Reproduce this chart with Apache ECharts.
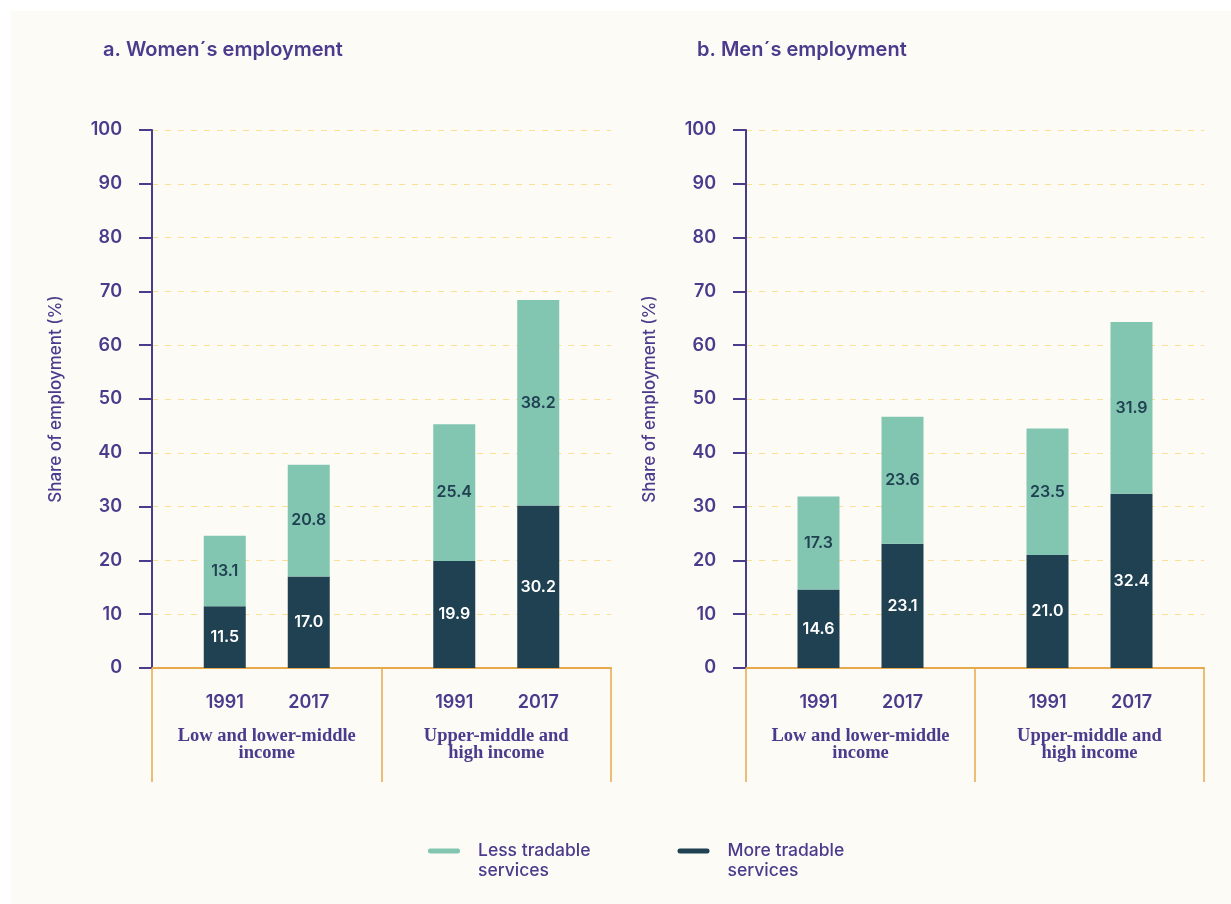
<!DOCTYPE html>
<html>
<head>
<meta charset="utf-8">
<script src="https://cdn.jsdelivr.net/npm/echarts@6/dist/echarts.min.js"></script>
<style>
html,body{margin:0;padding:0;background:#ffffff;}
#chart{width:1231px;height:904px;}
</style>
</head>
<body>
<div id="chart"></div>
<script>
// ---- data ----
const groups = ['Low and lower-middle\nincome', 'Upper-middle and\nhigh income'];
const years = ['1991', '2017'];
const yTicks = { min: 0, max: 100, interval: 10 };
const seriesNames = ['Less tradable services', 'More tradable services'];
const panelTitles = ['a. Women\u00b4s employment', 'b. Men\u00b4s employment'];
const yAxisName = 'Share of employment (%)';

// women: [low group, upper group]
const womenMore1991 = [11.5, 19.9];
const womenLess1991 = [13.1, 25.4];
const womenMore2017 = [17.0, 30.2];
const womenLess2017 = [20.8, 38.2];
// men
const menMore1991 = [14.6, 21.0];
const menLess1991 = [17.3, 23.5];
const menMore2017 = [23.1, 32.4];
const menLess2017 = [23.6, 31.9];

// ---- styles ----
const PURPLE = '#4b3b8c';
const ORANGE = '#e6a94c';
const LESS = '#82c5b0';
const MORE = '#1f4152';
const SANS = 'Inter, Roboto, sans-serif';
const SERIF = '"Liberation Serif", "DejaVu Serif", serif';
const LEGEND_ICON = 'path://M2.5,0 L29.5,0 A2.5,2.5 0 0 1 29.5,5 L2.5,5 A2.5,2.5 0 0 1 2.5,0 Z M0,25 L0.01,25 L0,25.01 Z';

const panels = [
  { more: { '1991': womenMore1991, '2017': womenMore2017 }, less: { '1991': womenLess1991, '2017': womenLess2017 } },
  { more: { '1991': menMore1991, '2017': menMore2017 }, less: { '1991': menLess1991, '2017': menLess2017 } }
];

const grids = [
  { left: 152, right: 620, top: 130, bottom: 236 },
  { left: 746, right: 27, top: 130, bottom: 236 }
];

const xAxes = grids.map((g, i) => ({
  type: 'category', gridIndex: i, data: groups,
  axisLine: { show: true, lineStyle: { color: ORANGE, width: 2 } },
  axisTick: { show: true, interval: 0, alignWithLabel: false, inside: false, length: 114, lineStyle: { color: ORANGE, width: 1.5 } },
  axisLabel: { interval: 0, hideOverlap: false, margin: 60, color: PURPLE, fontFamily: SERIF, fontWeight: 'bold', fontSize: 18.5, lineHeight: 17 },
  splitLine: { show: false }
}));

const yAxes = grids.map((g, i) => ({
  type: 'value', gridIndex: i, min: yTicks.min, max: yTicks.max, interval: yTicks.interval,
  name: yAxisName, nameLocation: 'middle', nameGap: 88, nameRotate: 90,
  nameTextStyle: { color: PURPLE, fontFamily: SANS, fontSize: 17, fontWeight: 500 },
  axisLine: { show: true, lineStyle: { color: PURPLE, width: 2 } },
  axisTick: { show: true, length: 13, lineStyle: { color: PURPLE, width: 2 } },
  axisLabel: { margin: 30, color: PURPLE, fontFamily: SANS, fontWeight: 600, fontSize: 18 },
  splitLine: { show: true, lineStyle: { color: '#fbdf92', type: [6, 7], width: 1.2 } }
}));

const series = [];
panels.forEach((p, i) => {
  years.forEach(yr => {
    const stackId = 'p' + i + '_' + yr;
    // helper: year label under each bar
    series.push({
      type: 'bar', name: 'year' + yr, xAxisIndex: i, yAxisIndex: i, stack: stackId,
      barWidth: 42, barGap: '100%', silent: true,
      data: groups.map(() => 0),
      itemStyle: { color: 'rgba(0,0,0,0)' },
      label: { show: true, position: 'bottom', distance: 26, formatter: () => yr,
        color: PURPLE, fontFamily: SANS, fontWeight: 600, fontSize: 18 }
    });
    series.push({
      type: 'bar', name: seriesNames[1], xAxisIndex: i, yAxisIndex: i, stack: stackId,
      barWidth: 42, barGap: '100%',
      data: p.more[yr],
      itemStyle: { color: MORE },
      label: { show: true, position: 'inside', formatter: d => d.value.toFixed(1),
        color: '#ffffff', fontFamily: SANS, fontWeight: 600, fontSize: 16 }
    });
    series.push({
      type: 'bar', name: seriesNames[0], xAxisIndex: i, yAxisIndex: i, stack: stackId,
      barWidth: 42, barGap: '100%',
      data: p.less[yr],
      itemStyle: { color: LESS },
      label: { show: true, position: 'inside', formatter: d => d.value.toFixed(1),
        color: MORE, fontFamily: SANS, fontWeight: 600, fontSize: 16 }
    });
  });
});

const option = {
  backgroundColor: '#ffffff',
  animation: false,
  graphic: [{ type: 'rect', z: -10, shape: { x: 11, y: 11, width: 1220, height: 893 }, style: { fill: '#fcfbf6' } }],
  title: [
    { text: panelTitles[0], left: 103, top: 40, padding: 0, textStyle: { color: PURPLE, fontFamily: SANS, fontWeight: 600, fontSize: 20 } },
    { text: panelTitles[1], left: 697, top: 40, padding: 0, textStyle: { color: PURPLE, fontFamily: SANS, fontWeight: 600, fontSize: 20 } }
  ],
  legend: {
    data: seriesNames, left: 423, top: 836, icon: LEGEND_ICON, itemWidth: 32, itemHeight: 25, itemGap: 87,
    formatter: n => n.replace(' services', '\nservices'),
    textStyle: { color: PURPLE, fontFamily: SANS, fontSize: 17.5, fontWeight: 500, lineHeight: 20, padding: [0, 0, 0, 13] }
  },
  grid: grids,
  xAxis: xAxes,
  yAxis: yAxes,
  series: series
};

const chart = echarts.init(document.getElementById('chart'), null, { renderer: 'canvas' });
chart.setOption(option);
</script>
</body>
</html>
